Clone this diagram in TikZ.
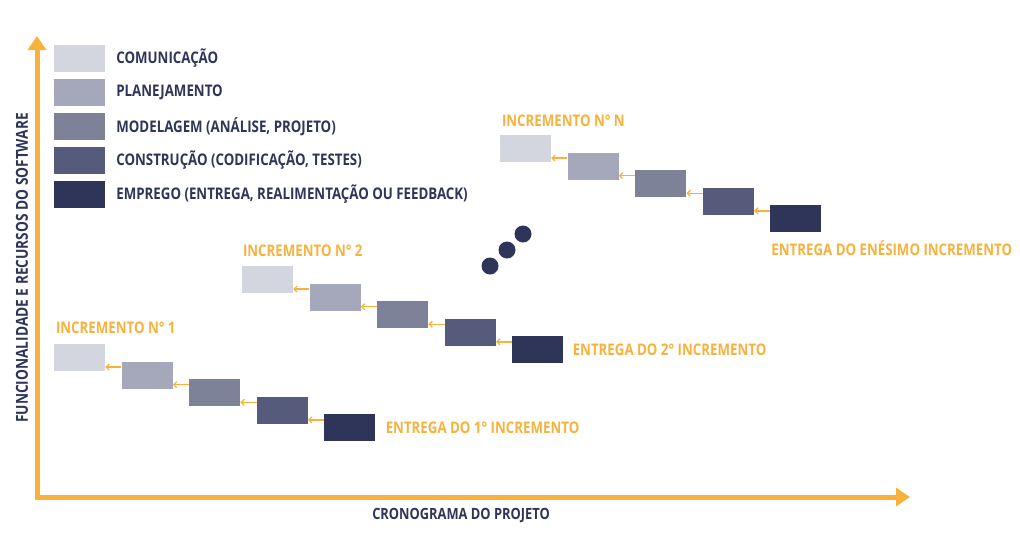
\documentclass[tikz,border=0pt]{standalone}
\usepackage{fontspec}
\setmainfont{Open Sans}[FakeStretch=0.83]
\usetikzlibrary{arrows.meta, positioning}
\definecolor{laranja}{RGB}{247,178,62}
\definecolor{marinho}{RGB}{46,53,89}
\definecolor{fase1}{RGB}{211,214,222}
\definecolor{fase2}{RGB}{164,168,186}
\definecolor{fase3}{RGB}{126,130,153}
\definecolor{fase4}{RGB}{87,91,123}
\definecolor{fase5}{RGB}{46,53,89}
\tikzset{
  fase/.style={minimum width=51pt, minimum height=27pt, inner sep=0pt},
  rotulo/.style={font=\bfseries\fontsize{16}{16}\selectfont, inner sep=0pt, text=marinho},
  titulo/.style={rotulo, text=laranja},
  seta/.style={laranja, line width=1.3pt, -{Straight Barb[length=3pt,width=6pt]}},
  eixo/.style={laranja, line width=5pt, line join=miter,
    {Triangle[length=14pt,width=18pt]}-{Triangle[length=14pt,width=18pt]}}
}

\begin{document}
\begin{tikzpicture}[x=1pt,y=-1pt]
  \useasboundingbox (0,0) rectangle (1020,552);

  %Eixos
  \coordinate (origem) at (37,497);
  \coordinate (topo) at (37,36);
  \coordinate (fim) at (910,497);
  \draw[eixo] (topo) -- (origem) -- (fim);
  \node[rotulo, font=\bfseries\fontsize{16.5}{16.5}\selectfont, rotate=90] (rotuloy) at (22,268)
    {FUNCIONALIDADE E RECURSOS DO SOFTWARE};
  \node[rotulo, font=\bfseries\fontsize{15.5}{15.5}\selectfont] (rotulox) at (461,515) {CRONOGRAMA DO PROJETO};

  %Legenda
  \foreach \f/\txt in {1/COMUNICAÇÃO, 2/PLANEJAMENTO, 3/{MODELAGEM (ANÁLISE, PROJETO)},
      4/{CONSTRUÇÃO (CODIFICAÇÃO, TESTES)}, 5/{EMPREGO (ENTREGA, REALIMENTAÇÃO OU FEEDBACK)}}
  {
    \node[fase, fill=fase\f] (leg\f) at (79.5,{58.5+34*(\f-1)}) {};
    \node[rotulo, right=11pt of leg\f] (legtxt\f) {\txt};
  }

  %Incrementos (canto superior esquerdo da primeira fase)
  \foreach \inc/\x/\y in {um/54/344, dois/242/266, ene/500/135}
  {
    \foreach \f in {1,...,5}
      \node[fase, fill=fase\f] (\inc\f) at ({\x+25.5+67.6*(\f-1)},{\y+13.5+17.6*(\f-1)}) {};
    \foreach \f [remember=\f as \g (initially 1)] in {2,...,5}
      \draw[seta] ([yshift=8pt]\inc\f.west) -- ([yshift=-9.6pt]\inc\g.east);
  }

  %Titulos e entregas
  \node[titulo, anchor=west] (tum) at ([xshift=2pt,yshift=16pt]um1.north west) {INCREMENTO N° 1};
  \node[titulo, anchor=west] (tdois) at ([xshift=1pt,yshift=15pt]dois1.north west) {INCREMENTO N° 2};
  \node[titulo, anchor=west] (tene) at ([xshift=2pt,yshift=14pt]ene1.north west) {INCREMENTO N° N};
  \node[titulo, right=10pt of um5] (eum) {ENTREGA DO 1° INCREMENTO};
  \node[titulo, right=9pt of dois5] (edois) {ENTREGA DO 2° INCREMENTO};
  \node[titulo, anchor=west] (eene) at ([xshift=1pt,yshift=-16pt]ene5.south west) {ENTREGA DO ENÉSIMO INCREMENTO};

  %Reticencias
  \fill[marinho] (490,266) circle (8.5);
  \fill[marinho] (507,250) circle (8.5);
  \fill[marinho] (523,234) circle (8.5);
\end{tikzpicture}
\end{document}
